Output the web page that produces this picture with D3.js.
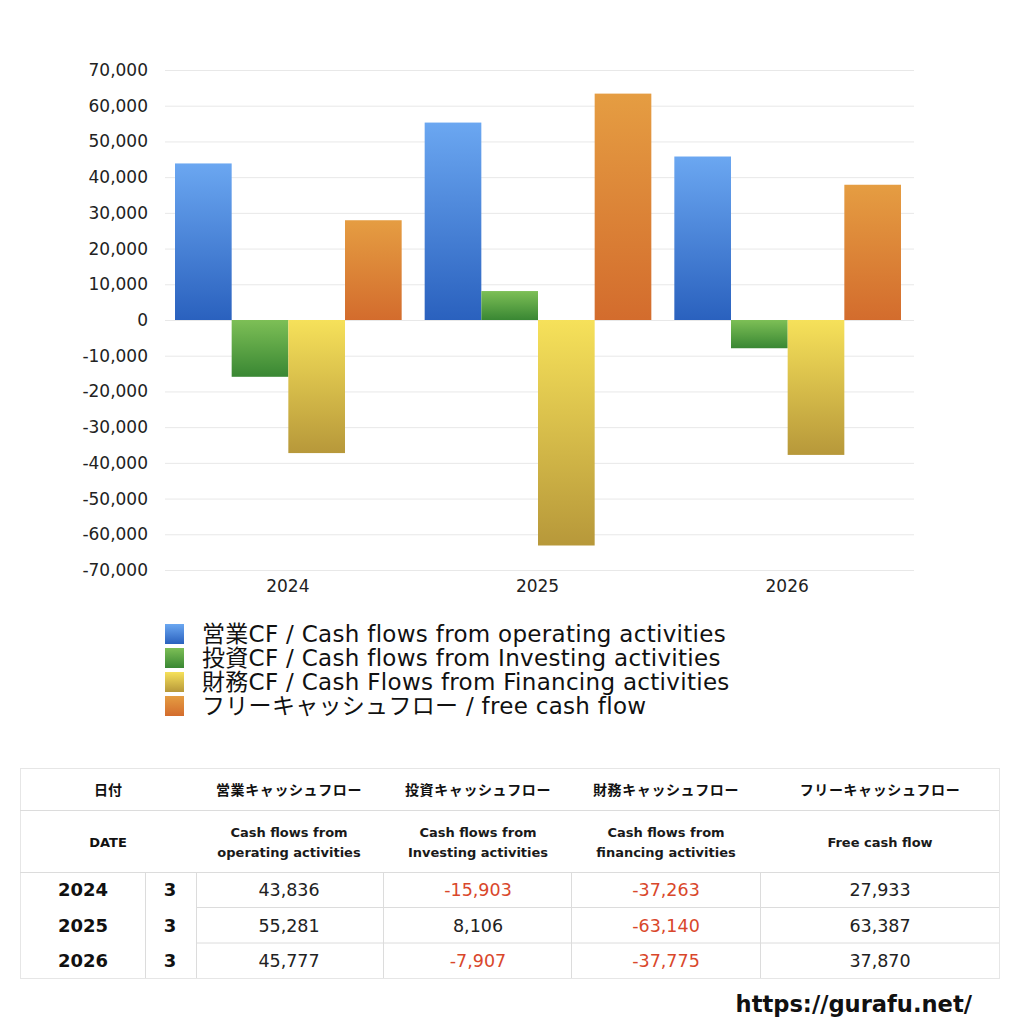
<!DOCTYPE html>
<html>
<head>
<meta charset="utf-8">
<script src="https://cdn.jsdelivr.net/npm/d3@7"></script>
<style>
  body { margin: 0; background: #fff; }
  svg { display: block; font-family: "DejaVu Sans", "Noto Sans CJK JP", sans-serif; }
</style>
</head>
<body>
<svg id="chart" width="1024" height="1024"></svg>
<script>
// data
const years = ["2024", "2025", "2026"];
const months = ["3", "3", "3"];
const operatingCF = [43836, 55281, 45777];
const investingCF = [-15903, 8106, -7907];
const financingCF = [-37263, -63140, -37775];
const freeCF = [27933, 63387, 37870];
const yTicks = [70000, 60000, 50000, 40000, 30000, 20000, 10000, 0, -10000, -20000, -30000, -40000, -50000, -60000, -70000];
const legendLabels = [
  "営業CF / Cash flows from operating activities",
  "投資CF / Cash flows from Investing activities",
  "財務CF / Cash Flows from Financing activities",
  "フリーキャッシュフロー / free cash flow"
];
const headerJa = ["営業キャッシュフロー", "投資キャッシュフロー", "財務キャッシュフロー", "フリーキャッシュフロー"];
const headerEn = [["Cash flows from", "operating activities"], ["Cash flows from", "Investing activities"], ["Cash flows from", "financing activities"], ["Free cash flow"]];

const seriesKeys = ["op", "inv", "fin", "free"];
const seriesValues = [operatingCF, investingCF, financingCF, freeCF];
const gradStops = [
  ["#6ba7f1", "#2a61be"],
  ["#7dbf56", "#398733"],
  ["#f6e15a", "#b7983a"],
  ["#e59d42", "#d36c2d"]
];

const fmt = d3.formatLocale({decimal: ".", thousands: ",", grouping: [3], currency: ["", ""], minus: "-"}).format(",");

const svg = d3.select("#chart");
const defs = svg.append("defs");
seriesKeys.forEach((k, i) => {
  const g = defs.append("linearGradient").attr("id", "grad_" + k)
    .attr("x1", 0).attr("y1", 0).attr("x2", 0).attr("y2", 1);
  g.append("stop").attr("offset", "0%").attr("stop-color", gradStops[i][0]);
  g.append("stop").attr("offset", "100%").attr("stop-color", gradStops[i][1]);
});

// chart area
const plot = {left: 165, right: 914, top: 70, bottom: 570};
const x = d3.scaleBand().domain(years).range([plot.left, plot.right]);
const xs = d3.scaleBand().domain(seriesKeys).range([10, x.bandwidth() - 13]);
const y = d3.scaleLinear().domain([-70000, 70000]).range([plot.bottom, plot.top]);

// grid
svg.append("g").selectAll("line").data(yTicks).join("line")
  .attr("x1", plot.left).attr("x2", plot.right)
  .attr("y1", d => y(d) + 0.5).attr("y2", d => y(d) + 0.5)
  .attr("stroke", "#e8e8e8").attr("stroke-width", 1);

const yAxis = svg.append("g").attr("transform", `translate(${plot.left},0)`)
  .call(d3.axisLeft(y).tickValues(yTicks).tickFormat(fmt).tickSize(0).tickPadding(17));
yAxis.select(".domain").remove();
yAxis.selectAll("text").attr("font-size", 17).attr("fill", "#222")
  .attr("font-family", "'DejaVu Sans', sans-serif");

const xAxis = svg.append("g").attr("transform", `translate(-2,${plot.bottom})`)
  .call(d3.axisBottom(x).tickSize(0).tickPadding(10));
xAxis.select(".domain").remove();
xAxis.selectAll("text").attr("font-size", 17).attr("fill", "#222")
  .attr("font-family", "'DejaVu Sans', sans-serif");

// bars
const groups = svg.append("g").selectAll("g").data(years).join("g")
  .attr("transform", d => `translate(${x(d)},0)`);
groups.selectAll("rect").data((d, i) => seriesKeys.map((k, j) => ({k, v: seriesValues[j][i]}))).join("rect")
  .attr("x", d => xs(d.k))
  .attr("width", xs.bandwidth())
  .attr("y", d => y(Math.max(0, d.v)))
  .attr("height", d => Math.abs(y(d.v) - y(0)))
  .attr("fill", d => `url(#grad_${d.k})`);

// legend
const legend = svg.append("g").attr("transform", "translate(165,624)");
legendLabels.forEach((t, i) => {
  const row = legend.append("g").attr("transform", `translate(0,${i * 24})`);
  row.append("rect").attr("width", 19).attr("height", 20).attr("fill", `url(#grad_${seriesKeys[i]})`);
  row.append("text").attr("x", 37).attr("y", 18).attr("font-size", 23).attr("letter-spacing", 0.3)
    .attr("fill", "#111").text(t);
});

// table
const tbl = svg.append("g");
const colX = [20, 145, 196, 383, 571, 760, 999];
const rowY = [768, 810, 872, 907.5, 943, 978];
const lineColor = "#dcdcdc";
tbl.append("rect").attr("x", colX[0] + 0.5).attr("y", rowY[0] + 0.5)
  .attr("width", colX[6] - colX[0]).attr("height", rowY[5] - rowY[0])
  .attr("fill", "none").attr("stroke", "#e6e6e6");
tbl.append("line").attr("x1", colX[0]).attr("x2", colX[6]).attr("y1", rowY[1] + 0.5).attr("y2", rowY[1] + 0.5).attr("stroke", lineColor);
tbl.append("line").attr("x1", colX[0]).attr("x2", colX[6]).attr("y1", rowY[2] + 0.5).attr("y2", rowY[2] + 0.5).attr("stroke", lineColor);
[rowY[3], rowY[4]].forEach(yy => {
  tbl.append("line").attr("x1", colX[2]).attr("x2", colX[6]).attr("y1", yy).attr("y2", yy).attr("stroke", lineColor);
});
colX.slice(1, 6).forEach(xx => {
  tbl.append("line").attr("x1", xx + 0.5).attr("x2", xx + 0.5).attr("y1", rowY[2]).attr("y2", rowY[5]).attr("stroke", lineColor);
});

const jaFont = "'Noto Sans CJK JP', sans-serif";
tbl.append("text").attr("x", 108).attr("y", 795).attr("text-anchor", "middle")
  .attr("font-size", 14).attr("font-weight", "bold").attr("font-family", jaFont).attr("fill", "#111").text("日付");
tbl.append("text").attr("x", 108).attr("y", 847).attr("text-anchor", "middle")
  .attr("font-size", 13).attr("font-weight", "bold").attr("fill", "#111").text("DATE");
const hdrCenters = [289, 478, 666, 880];
headerJa.forEach((t, i) => {
  tbl.append("text").attr("x", hdrCenters[i]).attr("y", 795).attr("text-anchor", "middle")
    .attr("font-size", 14).attr("font-weight", "bold").attr("font-family", jaFont)
    .attr("letter-spacing", 0.6).attr("fill", "#111").text(t);
  const lines = headerEn[i];
  lines.forEach((l, j) => {
    const yy = lines.length === 1 ? 847 : 837 + j * 20;
    tbl.append("text").attr("x", hdrCenters[i]).attr("y", yy).attr("text-anchor", "middle")
      .attr("font-size", 13).attr("font-weight", "bold").attr("fill", "#1a1a1a").text(l);
  });
});

years.forEach((yr, r) => {
  const cy = (rowY[r + 2] + rowY[r + 3]) / 2 + 6.5;
  tbl.append("text").attr("x", 83).attr("y", cy).attr("text-anchor", "middle")
    .attr("font-size", 18).attr("font-weight", "bold").attr("fill", "#111").text(yr);
  tbl.append("text").attr("x", 170).attr("y", cy).attr("text-anchor", "middle")
    .attr("font-size", 18).attr("font-weight", "bold").attr("fill", "#111").text(months[r]);
  seriesValues.forEach((vals, c) => {
    const v = vals[r];
    tbl.append("text").attr("x", hdrCenters[c]).attr("y", cy).attr("text-anchor", "middle")
      .attr("font-size", 17.5)
      .attr("fill", v < 0 ? "#d9472b" : "#222").text(fmt(v));
  });
});

svg.append("text").attr("x", 972).attr("y", 1012).attr("text-anchor", "end")
  .attr("font-size", 22.6).attr("font-weight", "bold")
  .attr("fill", "#111").text("https://gurafu.net/");
</script>
</body>
</html>
